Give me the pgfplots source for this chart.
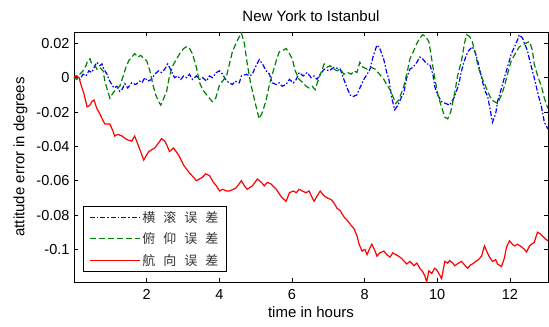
\documentclass[border=0pt]{standalone}
\usepackage{pgfplots}
\pgfplotsset{compat=1.18}
\usepackage{fontspec}
\setmainfont{Liberation Sans}
\newfontfamily\cjk{Noto Sans CJK SC}
\definecolor{mgreen}{rgb}{0,0.5,0}
\begin{document}
\begin{tikzpicture}
\begin{axis}[
  scale only axis,
  width=474bp, height=250bp,
  xmin=0, xmax=13.05, ymin=-0.119, ymax=0.0266,
  xtick={2,4,6,8,10,12}, xticklabels={2,4,6,8,10,12},
  ytick={-0.1,-0.08,-0.06,-0.04,-0.02,0,0.02},
  yticklabels={-0.1,-0.08,-0.06,-0.04,-0.02,0,0.02},
  tick align=inside, major tick length=4bp,
  tick style={black, line width=0.6bp},
  axis line style={black, line width=0.8bp},
  tick label style={font=\fontsize{14.5bp}{16bp}\selectfont},
  xticklabel style={yshift=-4bp},
  yticklabel style={xshift=-1bp},
  title={New York to Istanbul},
  title style={font=\fontsize{15bp}{17bp}\selectfont, yshift=1bp},
  xlabel={time in hours},
  ylabel={attitude error in degrees},
  label style={font=\fontsize{15bp}{17bp}\selectfont},
  xlabel style={yshift=0bp},
  ylabel style={yshift=2bp},
  legend style={at={(0.019,0.04)}, anchor=south west, draw=black, line width=0.8bp,
    font=\fontsize{13bp}{15bp}\selectfont\cjk, text=black!80,
    inner xsep=6bp, inner ysep=3bp, row sep=5bp,
    nodes={line width=0.8bp}},
  legend cell align=left,
  legend image code/.code={\draw[#1, line width=1bp] (0bp,0bp) -- (50bp,0bp);},
  every axis plot/.append style={line width=1.2bp},
]
\addplot[blue, dash pattern=on 5bp off 2bp on 1.5bp off 2bp] table {
0 0
0.08 0.001
0.16 -0.001
0.25 0.002
0.33 0.001
0.41 0.004
0.49 0.003
0.58 0.007
0.63 0.009
0.71 0.007
0.77 0.008
0.82 0.005
0.91 0.002
0.96 -0.001
1.04 -0.004
1.10 -0.006
1.18 -0.005
1.26 -0.008
1.32 -0.007
1.40 -0.0035
1.48 -0.006
1.59 -0.003
1.70 -0.004
1.81 -0.002
1.87 -0.003
1.95 0.000
2.03 -0.002
2.14 -0.001
2.22 0.002
2.33 0.004
2.41 0.003
2.50 0.005
2.58 0.008
2.63 0.006
2.72 0.002
2.77 0.000
2.85 0.001
2.94 -0.001
3.02 0.001
3.10 0.000
3.18 0.002
3.26 -0.001
3.37 0.001
3.46 -0.001
3.54 0.000
3.65 -0.002
3.73 0.001
3.81 0.000
3.92 0.003
4.01 0.004
4.09 0.002
4.20 -0.002
4.28 -0.003
4.36 -0.004
4.44 -0.002
4.55 -0.003
4.61 0.001
4.75 0.002
4.83 0.001
4.91 0.002
4.99 0.006
5.10 0.0105
5.19 0.008
5.29 0.004
5.38 0.002
5.46 -0.003
5.57 -0.004
5.65 -0.003
5.73 -0.005
5.84 -0.004
5.93 -0.001
6.04 -0.003
6.12 -0.001
6.20 0.003
6.31 0.001
6.42 0.003
6.53 0.000
6.61 0.001
6.69 -0.001
6.78 0.002
6.89 0.005
7.02 0.004
7.16 0.006
7.33 0.005
7.43 -0.001
7.52 -0.006
7.60 -0.010
7.68 -0.011
7.79 -0.010
7.87 -0.006
7.98 -0.001
8.07 0.002
8.15 0.005
8.23 0.012
8.34 0.019
8.42 0.017
8.53 0.0105
8.61 0.003
8.67 -0.001
8.75 -0.012
8.83 -0.0187
8.92 -0.016
9.00 -0.012
9.08 -0.009
9.16 0.000
9.25 0.005
9.33 0.006
9.44 0.009
9.52 0.012
9.60 0.011
9.71 0.008
9.79 0.008
9.88 0.002
9.93 -0.005
10.01 -0.010
10.12 -0.014
10.23 -0.015
10.34 -0.016
10.40 -0.014
10.48 -0.011
10.59 -0.004
10.67 0.004
10.75 0.010
10.84 0.015
10.92 0.017
10.97 0.018
11.06 0.014
11.11 0.010
11.19 0.003
11.30 -0.007
11.39 -0.011
11.47 -0.020
11.52 -0.026
11.61 -0.021
11.66 -0.014
11.77 -0.006
11.85 0.000
11.96 0.008
12.04 0.014
12.13 0.018
12.21 0.022
12.26 0.025
12.35 0.023
12.40 0.020
12.48 0.016
12.57 0.008
12.67 0.000
12.78 -0.010
12.87 -0.017
12.95 -0.026
13.05 -0.030
};
\addlegendentry{横\hspace{8bp}滚\hspace{8bp}误\hspace{8bp}差}
\addplot[mgreen, dash pattern=on 6bp off 3bp] table {
0 0
0.08 -0.001
0.16 0.002
0.25 0.004
0.33 0.007
0.38 0.010
0.44 0.011
0.49 0.008
0.58 0.007
0.63 0.005
0.71 0.006
0.80 0.004
0.85 -0.002
0.93 -0.008
0.99 -0.012
1.07 -0.009
1.15 -0.007
1.26 -0.005
1.34 0.000
1.43 0.006
1.51 0.010
1.59 0.012
1.67 0.014
1.76 0.012
1.84 0.013
1.92 0.011
2.00 0.010
2.09 0.004
2.17 -0.004
2.25 -0.010
2.33 -0.014
2.39 -0.016
2.47 -0.012
2.55 -0.008
2.63 0.001
2.72 0.007
2.83 0.011
2.91 0.014
3.02 0.017
3.10 0.018
3.18 0.017
3.26 0.014
3.37 0.006
3.46 -0.003
3.54 -0.007
3.65 -0.010
3.73 -0.012
3.81 -0.014
3.90 -0.012
4.01 -0.004
4.09 -0.002
4.20 0.001
4.28 0.008
4.36 0.015
4.44 0.019
4.53 0.023
4.61 0.026
4.69 0.020
4.77 0.008
4.86 -0.003
4.97 -0.013
5.05 -0.020
5.10 -0.024
5.19 -0.020
5.29 -0.013
5.38 -0.004
5.46 0.002
5.57 0.010
5.65 0.015
5.76 0.016
5.84 0.017
5.93 0.014
6.01 0.011
6.09 0.004
6.20 -0.001
6.31 -0.003
6.39 -0.005
6.47 -0.006
6.56 -0.005
6.64 -0.007
6.69 -0.0035
6.80 0.003
6.89 0.008
6.97 0.006
7.05 0.007
7.16 0.005
7.24 0.004
7.33 0.005
7.43 0.002
7.54 0.003
7.63 0.002
7.71 0.004
7.79 0.003
7.87 0.009
7.96 0.006
8.07 0.005
8.18 0.006
8.29 0.005
8.37 0.003
8.45 0.001
8.53 -0.001
8.61 -0.004
8.70 -0.007
8.78 -0.011
8.86 -0.015
8.94 -0.013
9.03 -0.008
9.08 -0.005
9.16 0.002
9.25 0.011
9.36 0.016
9.44 0.020
9.52 0.023
9.60 0.025
9.68 0.024
9.77 0.021
9.85 0.0105
9.93 0.000
10.01 -0.009
10.10 -0.016
10.21 -0.023
10.29 -0.024
10.37 -0.020
10.48 -0.009
10.56 0.001
10.67 0.010
10.75 0.020
10.81 0.025
10.89 0.024
10.95 0.022
11.03 0.016
11.11 0.008
11.19 0.002
11.30 -0.0035
11.41 -0.009
11.50 -0.013
11.58 -0.014
11.66 -0.015
11.77 -0.010
11.85 -0.005
11.96 0.004
12.04 0.010
12.15 0.014
12.26 0.018
12.35 0.019
12.43 0.020
12.54 0.021
12.62 0.016
12.67 0.008
12.78 0.000
12.87 -0.005
12.95 -0.012
13.05 -0.018
};
\addlegendentry{俯\hspace{8bp}仰\hspace{8bp}误\hspace{8bp}差}
\addplot[red] table {
0 0
0.05 0.001
0.14 0.0
0.19 -0.004
0.27 -0.009
0.36 -0.017
0.44 -0.016
0.49 -0.014
0.55 -0.013
0.63 -0.018
0.71 -0.021
0.80 -0.025
0.85 -0.027
0.99 -0.027
1.07 -0.031
1.12 -0.034
1.21 -0.033
1.32 -0.034
1.45 -0.036
1.59 -0.037
1.67 -0.034
1.78 -0.040
1.92 -0.048
2.00 -0.045
2.06 -0.043
2.22 -0.041
2.33 -0.038
2.41 -0.0355
2.50 -0.037
2.55 -0.039
2.63 -0.043
2.74 -0.041
2.88 -0.045
3.02 -0.051
3.16 -0.055
3.29 -0.058
3.37 -0.060
3.54 -0.058
3.62 -0.056
3.73 -0.057
3.84 -0.061
3.92 -0.063
4.01 -0.066
4.09 -0.065
4.20 -0.066
4.28 -0.066
4.39 -0.065
4.47 -0.064
4.61 -0.060
4.69 -0.063
4.77 -0.065
4.91 -0.063
5.05 -0.059
5.16 -0.061
5.24 -0.063
5.32 -0.061
5.43 -0.062
5.57 -0.065
5.71 -0.0695
5.84 -0.072
5.93 -0.067
6.04 -0.066
6.12 -0.067
6.20 -0.065
6.28 -0.066
6.39 -0.067
6.47 -0.066
6.56 -0.070
6.61 -0.072
6.69 -0.069
6.78 -0.066
6.89 -0.069
6.97 -0.070
7.08 -0.071
7.16 -0.073
7.24 -0.076
7.33 -0.0775
7.43 -0.081
7.52 -0.083
7.63 -0.086
7.71 -0.088
7.79 -0.092
7.85 -0.097
7.93 -0.101
8.01 -0.100
8.07 -0.103
8.15 -0.099
8.20 -0.097
8.29 -0.101
8.34 -0.104
8.42 -0.102
8.53 -0.101
8.61 -0.103
8.70 -0.1045
8.78 -0.102
8.83 -0.1027
8.94 -0.104
9.03 -0.1055
9.16 -0.1085
9.25 -0.107
9.36 -0.1095
9.44 -0.108
9.52 -0.111
9.60 -0.113
9.66 -0.1155
9.71 -0.119
9.77 -0.1125
9.85 -0.114
9.93 -0.111
9.99 -0.112
10.07 -0.115
10.12 -0.117
10.21 -0.107
10.29 -0.108
10.34 -0.1065
10.43 -0.108
10.48 -0.1095
10.59 -0.108
10.67 -0.107
10.75 -0.109
10.84 -0.111
10.92 -0.109
10.97 -0.1085
11.06 -0.107
11.11 -0.1065
11.22 -0.104
11.30 -0.098
11.36 -0.101
11.44 -0.1045
11.52 -0.107
11.61 -0.106
11.66 -0.1085
11.77 -0.110
11.85 -0.105
11.91 -0.0985
11.99 -0.095
12.07 -0.097
12.13 -0.098
12.21 -0.097
12.32 -0.0985
12.40 -0.100
12.46 -0.1015
12.54 -0.098
12.59 -0.097
12.67 -0.096
12.76 -0.090
12.84 -0.091
12.89 -0.092
12.98 -0.094
13.05 -0.095
};
\addlegendentry{航\hspace{8bp}向\hspace{8bp}误\hspace{8bp}差}
\end{axis}
\pgfresetboundingbox
\path (-74bp,-45bp) rectangle (475bp,282bp);
\end{tikzpicture}
\end{document}
